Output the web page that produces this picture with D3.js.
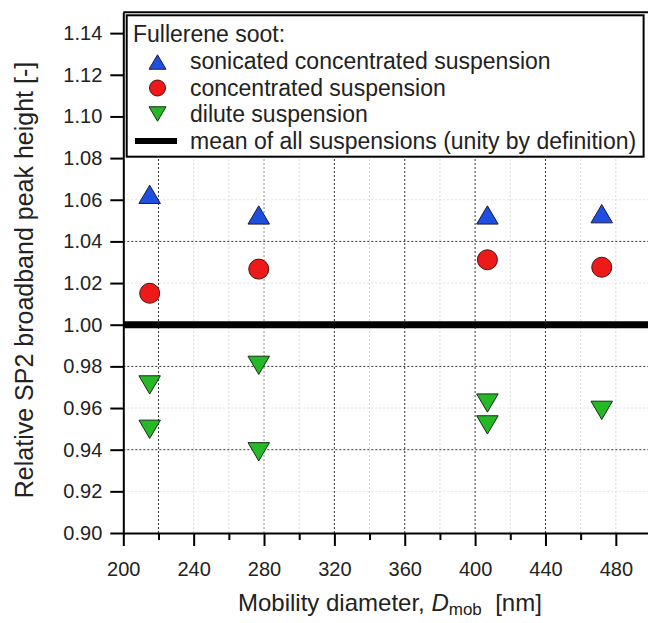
<!DOCTYPE html>
<html>
<head>
<meta charset="utf-8">
<script src="https://cdn.jsdelivr.net/npm/d3@7"></script>
<style>
  html, body { margin: 0; padding: 0; background: #fff; }
  svg { display: block; font-family: "Liberation Sans", Arial, sans-serif; }
</style>
</head>
<body>
<svg id="chart" width="648" height="623"></svg>
<script>
// ---- data ----
const diameters = [215, 277, 407, 472];
const sonicated = [1.0626, 1.0527, 1.0527, 1.0533];
const concentrated = [1.0151, 1.0267, 1.0312, 1.0276];
const diluteD = [215, 215, 277, 277, 407, 407, 472];
const diluteV = [0.9711, 0.9498, 0.9805, 0.9390, 0.9624, 0.9519, 0.9589];
const unity = 1.0;

const xTicks = [200, 240, 280, 320, 360, 400, 440, 480];
const xMinorTicks = [220, 260, 300, 340, 380, 420, 460];
const yTicks = [0.90, 0.92, 0.94, 0.96, 0.98, 1.00, 1.02, 1.04, 1.06, 1.08, 1.10, 1.12, 1.14];
const gridDarkX = [220, 320, 360, 400, 440];
const gridMidX = [280];
const gridFaintX = [240, 260, 300, 340, 380, 420, 460, 480];
const gridDarkY = [0.94, 0.98, 1.04];
const gridFaintY = [0.92, 0.96, 1.02, 1.06];

const legendTitle = "Fullerene soot:";
const legendLabels = ["sonicated concentrated suspension", "concentrated suspension", "dilute suspension", "mean of all suspensions (unity by definition)"];

const colBlue = "#1f4fe0", colRed = "#ee1a1a", colGreen = "#26b826";

// ---- layout ----
const svg = d3.select("#chart");
const L = 123.3, R = 651, T = 12.3, B = 533;
const x = d3.scaleLinear().domain([200, 500]).range([L, R]);
const y = d3.scaleLinear().domain([0.90, 1.15]).range([B, T]);

// grid
const grid = svg.append("g");
function vgrid(vals, col) {
  grid.selectAll(null).data(vals).enter().append("line")
    .attr("x1", d => x(d)).attr("x2", d => x(d)).attr("y1", B).attr("y2", T)
    .attr("stroke", col).attr("stroke-width", 1).attr("stroke-dasharray", "2,2");
}
function hgrid(vals, col) {
  grid.selectAll(null).data(vals).enter().append("line")
    .attr("y1", d => y(d)).attr("y2", d => y(d)).attr("x1", L).attr("x2", R)
    .attr("stroke", col).attr("stroke-width", 1).attr("stroke-dasharray", "2,2");
}
vgrid(gridFaintX, "#d8d8d8");
hgrid(gridFaintY, "#e0e0e0");
vgrid(gridMidX, "#8a8a8a");
vgrid(gridDarkX, "#333");
hgrid(gridDarkY, "#333");

// unity line
svg.append("line")
  .attr("x1", x(200)).attr("x2", x(500)).attr("y1", y(unity)).attr("y2", y(unity))
  .attr("stroke", "#000").attr("stroke-width", 7);

// axes
const xAxis = svg.append("g").attr("transform", `translate(0,${B})`)
  .call(d3.axisBottom(x).tickValues(xTicks).tickSize(13).tickSizeOuter(0).tickPadding(15.5).tickFormat(d3.format("d")));
const xMinor = svg.append("g").attr("transform", `translate(0,${B})`)
  .call(d3.axisBottom(x).tickValues(xMinorTicks).tickSize(7).tickSizeOuter(0).tickFormat(""));
xMinor.select(".domain").remove();
const yAxis = svg.append("g").attr("transform", `translate(${L},0)`)
  .call(d3.axisLeft(y).tickValues(yTicks).tickSize(13).tickSizeOuter(0).tickPadding(8).tickFormat(d3.format(".2f")));
[xAxis, xMinor, yAxis].forEach(g => {
  g.selectAll("path, line").attr("stroke", "#000").attr("stroke-width", 2);
  g.selectAll("text").attr("fill", "#222").style("font-size", "20px").style("font-family", "Liberation Sans, Arial, sans-serif");
});
// top frame
svg.append("line").attr("x1", x(200)).attr("x2", x(500)).attr("y1", y(1.15)).attr("y2", y(1.15))
  .attr("stroke", "#000").attr("stroke-width", 2);

// marker shapes
function triUp(cx, cy, s) {
  const h = s * 0.85;
  return `M${cx},${cy - h / 2}L${cx + s / 2},${cy + h / 2}L${cx - s / 2},${cy + h / 2}Z`;
}
function triDown(cx, cy, s) {
  const h = s * 0.85;
  return `M${cx},${cy + h / 2}L${cx + s / 2},${cy - h / 2}L${cx - s / 2},${cy - h / 2}Z`;
}

const marks = svg.append("g");
marks.selectAll(null).data(diameters.map((d, i) => [d, sonicated[i]])).enter().append("path")
  .attr("d", d => triUp(x(d[0]), y(d[1]), 21.5))
  .attr("fill", colBlue).attr("stroke", "#1a1a40").attr("stroke-width", 1);
marks.selectAll(null).data(diameters.map((d, i) => [d, concentrated[i]])).enter().append("circle")
  .attr("cx", d => x(d[0])).attr("cy", d => y(d[1])).attr("r", 10)
  .attr("fill", colRed).attr("stroke", "#501010").attr("stroke-width", 1);
marks.selectAll(null).data(diluteD.map((d, i) => [d, diluteV[i]])).enter().append("path")
  .attr("d", d => triDown(x(d[0]), y(d[1]), 21.5))
  .attr("fill", colGreen).attr("stroke", "#103010").attr("stroke-width", 1);

// legend
const lg = svg.append("g");
lg.append("rect").attr("x", 126.7).attr("y", 15.3).attr("width", 643.6 - 126.7).attr("height", 156.7 - 15.3)
  .attr("fill", "#fff").attr("stroke", "#000").attr("stroke-width", 2);
const lfs = "23px";
lg.append("text").attr("x", 133).attr("y", 42).text(legendTitle).style("font-size", lfs).attr("fill", "#222");
const rowY = [69, 96, 122, 149];
lg.append("path").attr("d", triUp(157.5, 62, 17)).attr("fill", colBlue).attr("stroke", "#1a1a40").attr("stroke-width", 1);
lg.append("circle").attr("cx", 157.5).attr("cy", 88).attr("r", 8).attr("fill", colRed).attr("stroke", "#501010").attr("stroke-width", 1);
lg.append("path").attr("d", triDown(157.5, 114, 17)).attr("fill", colGreen).attr("stroke", "#103010").attr("stroke-width", 1);
lg.append("line").attr("x1", 135).attr("x2", 177).attr("y1", 141).attr("y2", 141).attr("stroke", "#000").attr("stroke-width", 6);
lg.selectAll(null).data(legendLabels).enter().append("text")
  .attr("x", 190).attr("y", (d, i) => rowY[i]).text(d => d).style("font-size", lfs).attr("fill", "#222");

// axis titles
svg.append("text").attr("transform", `translate(33,280) rotate(-90)`).attr("text-anchor", "middle")
  .style("font-size", "25px").attr("fill", "#222").text("Relative SP2 broadband peak height [-]");
const xt = svg.append("text").attr("x", 238).attr("y", 611).style("font-size", "24px").attr("fill", "#222");
xt.append("tspan").text("Mobility diameter, ");
xt.append("tspan").style("font-style", "italic").text("D");
xt.append("tspan").attr("dy", 4).style("font-size", "17px").text("mob");
xt.append("tspan").attr("dy", -4).text("\u00a0\u00a0[nm]");
</script>
</body>
</html>
